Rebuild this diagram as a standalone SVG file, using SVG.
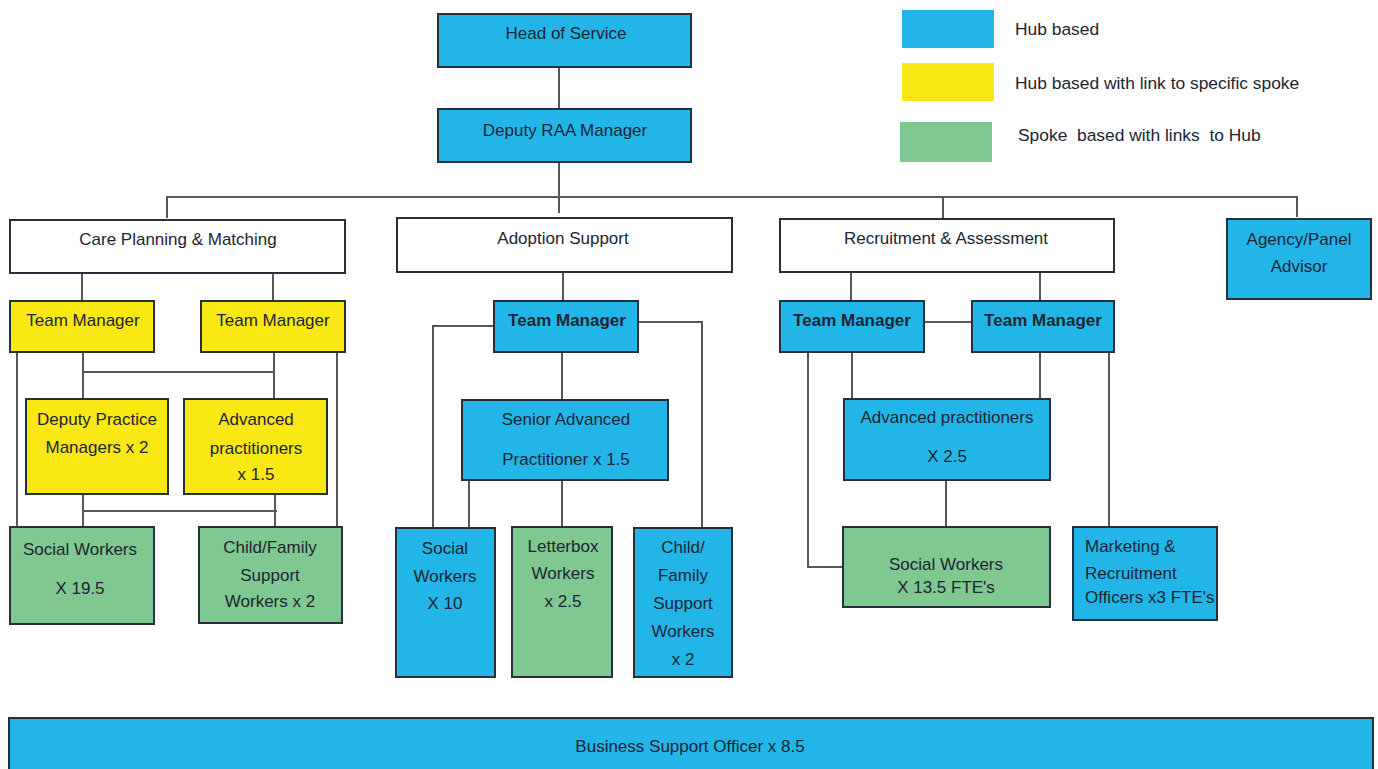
<svg xmlns="http://www.w3.org/2000/svg" width="1378" height="769" viewBox="0 0 1378 769">
<style>
text{font-family:"Liberation Sans",Arial,sans-serif;font-size:17px;fill:#1c2533;text-anchor:middle}
.b{font-weight:bold}
.l{text-anchor:start;font-size:17.4px}
.st{text-anchor:start}
.box{stroke:#26303a;stroke-width:2}
.hub{fill:#22b6e8}
.yel{fill:#f9e813}
.grn{fill:#80c891}
.wht{fill:#ffffff}
.con{fill:none;stroke:#575757;stroke-width:2}
</style>
<rect width="1378" height="769" fill="#ffffff"/>
<g id="legend">
<rect x="902" y="10" width="92" height="38" class="hub"/>
<rect x="902" y="63" width="92" height="38" class="yel"/>
<rect x="900" y="122" width="92" height="40" class="grn"/>
<text class="l" x="1015" y="35">Hub based</text>
<text class="l" x="1015" y="89">Hub based with link to specific spoke</text>
<text class="l" x="1018" y="141" xml:space="preserve">Spoke  based with links  to Hub</text>
</g>
<g id="connectors">
<path class="con" d="M559 67V109M559 162V213M167 218V197H1297V217M943 197V219"/>
<path class="con" d="M82 273V301M273 273V301M563 272V301M851 272V301M1040 272V301"/>
<path class="con" d="M17 352V527M337 352V527M83 352V399M274 352V399M83 372H274M83 494V527M275 494V527M83 511H277"/>
<path class="con" d="M494 326H433V528M638 322H702V528M562 352V400M469 480V528M562 480V527"/>
<path class="con" d="M924 322H972M852 352V399M1040 352V399M808 352V567H843M1109 352V527M946 480V527"/>
</g>
<g id="head-of-service"><rect x="438" y="14" width="253" height="53" class="box hub"/><text x="566" y="39">Head of Service</text></g>
<g id="deputy-raa-manager"><rect x="438" y="109" width="253" height="53" class="box hub"/><text x="565" y="136">Deputy RAA Manager</text></g>
<g id="care-planning"><rect x="10" y="220" width="335" height="53" class="box wht"/><text x="178" y="245">Care Planning &amp; Matching</text></g>
<g id="adoption-support"><rect x="397" y="218" width="335" height="54" class="box wht"/><text x="563" y="244">Adoption Support</text></g>
<g id="recruitment-assessment"><rect x="780" y="219" width="334" height="53" class="box wht"/><text x="946" y="244">Recruitment &amp; Assessment</text></g>
<g id="agency-panel-advisor"><rect x="1227" y="219" width="144" height="80" class="box hub"/><text x="1299" y="245">Agency/Panel</text><text x="1299" y="272">Advisor</text></g>
<g id="cpm-team-manager-1"><rect x="10" y="301" width="144" height="51" class="box yel"/><text x="83" y="326">Team Manager</text></g>
<g id="cpm-team-manager-2"><rect x="201" y="301" width="144" height="51" class="box yel"/><text x="273" y="326">Team Manager</text></g>
<g id="deputy-practice-managers"><rect x="26" y="399" width="142" height="95" class="box yel"/><text x="97" y="425">Deputy Practice</text><text x="97" y="453">Managers x 2</text></g>
<g id="cpm-advanced-practitioners"><rect x="184" y="399" width="143" height="95" class="box yel"/><text x="256" y="425">Advanced</text><text x="256" y="454">practitioners</text><text x="256" y="480">x 1.5</text></g>
<g id="cpm-social-workers"><rect x="10" y="527" width="144" height="97" class="box grn"/><text x="80" y="555">Social Workers</text><text x="80" y="594">X 19.5</text></g>
<g id="cpm-child-family"><rect x="199" y="527" width="143" height="96" class="box grn"/><text x="270" y="553">Child/Family</text><text x="270" y="581">Support</text><text x="270" y="607">Workers x 2</text></g>
<g id="as-team-manager"><rect x="494" y="301" width="144" height="51" class="box hub"/><text class="b" x="567" y="326">Team Manager</text></g>
<g id="senior-advanced"><rect x="462" y="400" width="206" height="80" class="box hub"/><text x="566" y="425">Senior Advanced</text><text x="566" y="465">Practitioner x 1.5</text></g>
<g id="as-social-workers"><rect x="396" y="528" width="99" height="149" class="box hub"/><text x="445" y="554">Social</text><text x="445" y="582">Workers</text><text x="445" y="609">X 10</text></g>
<g id="letterbox-workers"><rect x="512" y="527" width="100" height="150" class="box grn"/><text x="563" y="552">Letterbox</text><text x="563" y="579">Workers</text><text x="563" y="607">x 2.5</text></g>
<g id="as-child-family"><rect x="634" y="528" width="98" height="149" class="box hub"/><text x="683" y="553">Child/</text><text x="683" y="581">Family</text><text x="683" y="609">Support</text><text x="683" y="637">Workers</text><text x="683" y="665">x 2</text></g>
<g id="ra-team-manager-1"><rect x="780" y="301" width="144" height="51" class="box hub"/><text class="b" x="852" y="326">Team Manager</text></g>
<g id="ra-team-manager-2"><rect x="972" y="301" width="142" height="51" class="box hub"/><text class="b" x="1043" y="326">Team Manager</text></g>
<g id="ra-advanced-practitioners"><rect x="844" y="399" width="206" height="81" class="box hub"/><text x="947" y="423">Advanced practitioners</text><text x="947" y="462">X 2.5</text></g>
<g id="ra-social-workers"><rect x="843" y="527" width="207" height="80" class="box grn"/><text x="946" y="570">Social Workers</text><text x="946" y="593">X 13.5 FTE's</text></g>
<g id="marketing-recruitment"><rect x="1073" y="527" width="144" height="93" class="box hub"/><text class="st" x="1085" y="552">Marketing &amp;</text><text class="st" x="1085" y="579">Recruitment</text><text class="st" x="1085" y="603">Officers x3 FTE's</text></g>
<g id="business-support"><rect x="9" y="718" width="1364" height="60" class="box hub"/><text x="690" y="752">Business Support Officer x 8.5</text></g>
</svg>
